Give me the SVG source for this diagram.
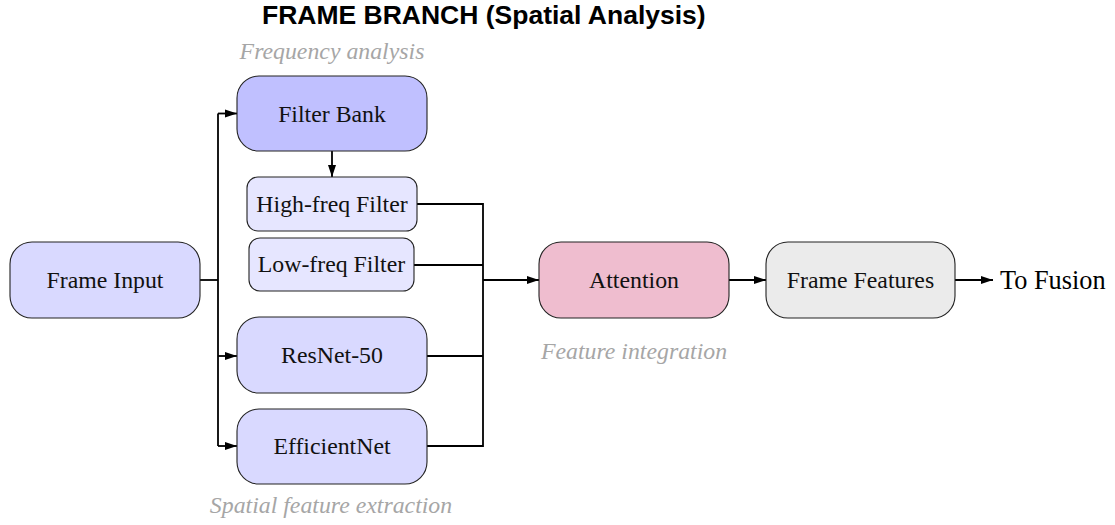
<svg xmlns="http://www.w3.org/2000/svg" width="1115" height="525" viewBox="0 0 1115 525">
  <defs>
    <marker id="arr" markerUnits="userSpaceOnUse" markerWidth="13" markerHeight="9" refX="12" refY="4.5" orient="auto">
      <path d="M0,0.5 L12,4.5 L0,8.5 z" fill="#000"/>
    </marker>
  </defs>
  <style>
    .node rect { stroke: #222; stroke-width: 1.1; }
    .lbl { font-family: "Liberation Serif", "Times New Roman", serif; font-size: 23.8px; fill: #111; text-anchor: middle; }
    .note { font-family: "Liberation Serif", "Times New Roman", serif; font-size: 23.8px; font-style: italic; fill: #a6a6a6; text-anchor: middle; }
    .title { font-family: "Liberation Sans", Arial, sans-serif; font-size: 26.5px; font-weight: bold; fill: #000; }
    .big { font-family: "Liberation Serif", "Times New Roman", serif; font-size: 26.3px; fill: #000; }
    .conn path { fill: none; stroke: #000; stroke-width: 1.8; }
  </style>
  <rect width="1115" height="525" fill="#fff"/>

  <text class="title" x="262" y="24">FRAME BRANCH (Spatial Analysis)</text>
  <text class="note" x="332" y="59">Frequency analysis</text>
  <text class="note" x="634" y="359">Feature integration</text>
  <text class="note" x="331" y="513">Spatial feature extraction</text>

  <g class="conn">
    <path d="M200,280 H218"/>
    <path d="M218,113.5 V446"/>
    <path d="M218,113.5 H237" marker-end="url(#arr)"/>
    <path d="M218,356 H237" marker-end="url(#arr)"/>
    <path d="M218,446 H237" marker-end="url(#arr)"/>
    <path d="M332,151 V177" marker-end="url(#arr)"/>
    <path d="M417,204 H483 V446 H427"/>
    <path d="M414,265 H483"/>
    <path d="M427,356 H483"/>
    <path d="M483,280 H539" marker-end="url(#arr)"/>
    <path d="M729,280 H766" marker-end="url(#arr)"/>
    <path d="M955,280 H993" marker-end="url(#arr)"/>
  </g>

  <g id="frame-input" class="node">
    <rect x="10" y="242" width="190" height="76" rx="22" fill="#d9d9ff"/>
    <text class="lbl" x="105" y="288">Frame Input</text>
  </g>
  <g id="filter-bank" class="node">
    <rect x="237" y="76" width="190" height="75" rx="22" fill="#c0c0ff"/>
    <text class="lbl" x="332" y="121.5">Filter Bank</text>
  </g>
  <g id="high-freq" class="node">
    <rect x="247" y="177" width="170" height="54" rx="11" fill="#e6e6ff"/>
    <text class="lbl" x="332" y="211.5">High-freq Filter</text>
  </g>
  <g id="low-freq" class="node">
    <rect x="249" y="238" width="165" height="53" rx="11" fill="#e6e6ff"/>
    <text class="lbl" x="331.5" y="272">Low-freq Filter</text>
  </g>
  <g id="resnet" class="node">
    <rect x="237" y="317" width="190" height="76" rx="22" fill="#d9d9ff"/>
    <text class="lbl" x="332" y="363">ResNet-50</text>
  </g>
  <g id="efficientnet" class="node">
    <rect x="237" y="409" width="190" height="75" rx="22" fill="#d9d9ff"/>
    <text class="lbl" x="332" y="454">EfficientNet</text>
  </g>
  <g id="attention" class="node">
    <rect x="539" y="242" width="190" height="76" rx="22" fill="#efbdcf"/>
    <text class="lbl" x="634" y="288">Attention</text>
  </g>
  <g id="frame-features" class="node">
    <rect x="766" y="242" width="189" height="76" rx="22" fill="#ebebeb"/>
    <text class="lbl" x="860.5" y="288">Frame Features</text>
  </g>
  <g id="to-fusion">
    <text class="big" x="1000" y="289">To Fusion</text>
  </g>
</svg>
